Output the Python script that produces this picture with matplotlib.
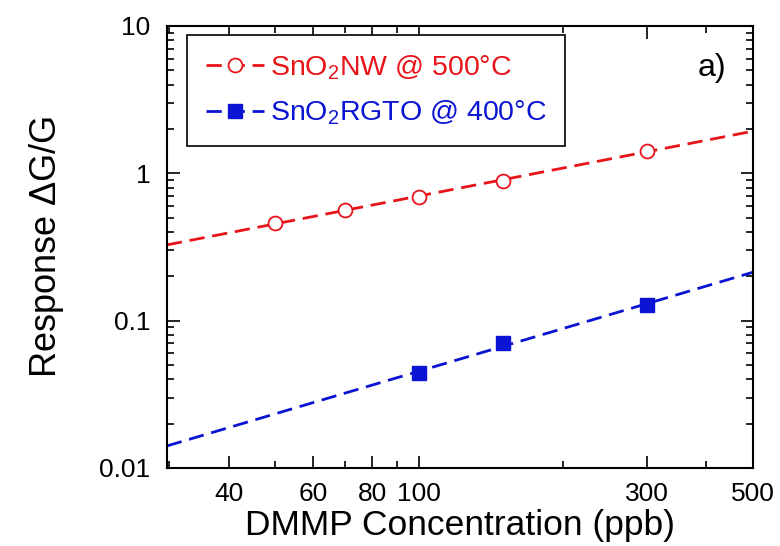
import matplotlib
matplotlib.use('Agg')
import matplotlib.pyplot as plt
from matplotlib.ticker import FixedLocator, NullFormatter, FixedFormatter
import numpy as np

plt.rcParams['font.family'] = ['Liberation Sans', 'DejaVu Sans']
plt.rcParams['mathtext.default'] = 'regular'

# data
conc_nw = [50, 70, 100, 150, 300]
resp_nw = [0.46, 0.56, 0.69, 0.89, 1.42]
conc_rgto = [100, 150, 300]
resp_rgto = [0.044, 0.070, 0.128]

x_ticks = [40, 60, 80, 100, 300, 500]
x_minor = [30, 50, 70, 90, 200, 400]
y_ticks = [0.01, 0.1, 1, 10]
y_labels = ['0.01', '0.1', '1', '10']
xlim = (29.7, 500)

fig = plt.figure(figsize=(7.8, 5.46), dpi=100)
ax = fig.add_axes([0.214, 0.143, 0.751, 0.8095])

# power-law fits (straight on log-log)
xfit = np.logspace(np.log10(xlim[0]), np.log10(xlim[1]), 100)
p_nw = np.polyfit(np.log10(conc_nw), np.log10(resp_nw), 1)
p_rg = np.polyfit(np.log10(conc_rgto), np.log10(resp_rgto), 1)

red = '#e8141a'
blue = '#0a14d2'
dash = (5.5, 2.8)

ax.plot(xfit, 10 ** np.polyval(p_nw, np.log10(xfit)), color=red, lw=2, dashes=dash)
ax.plot(xfit, 10 ** np.polyval(p_rg, np.log10(xfit)), color=blue, lw=2, dashes=dash)
ax.plot(conc_nw, resp_nw, 'o', color=red, mfc='white', mec=red, ms=10, mew=1.3)
ax.plot(conc_rgto, resp_rgto, 's', color=blue, ms=10)

# legend proxies
h1, = ax.plot([], [], color=red, lw=2, dashes=dash, marker='o', mfc='white', mec=red, ms=10, mew=1.3)
h2, = ax.plot([], [], color=blue, lw=2, dashes=dash, marker='s', ms=10)
leg = ax.legend([h1, h2], ['SnO$_2$NW @ 500°C', 'SnO$_2$RGTO @ 400°C'],
                loc='upper left', bbox_to_anchor=(0.035, 0.98), fontsize=20.5,
                fancybox=False, framealpha=1, edgecolor='black', handlelength=2.05,
                borderpad=0.65, labelspacing=0.6, handletextpad=0.2, borderaxespad=0)
leg.get_frame().set_linewidth(1.2)
for t, c in zip(leg.get_texts(), [red, blue]):
    t.set_color(c)

ax.text(0.955, 0.905, 'a)', transform=ax.transAxes, fontsize=23, ha='right', va='center')

ax.set_xscale('log')
ax.set_yscale('log')
ax.set_xlim(*xlim)
ax.set_ylim(0.01, 10)

ax.xaxis.set_major_locator(FixedLocator(x_ticks))
ax.xaxis.set_major_formatter(FixedFormatter([str(v) for v in x_ticks]))
ax.xaxis.set_minor_locator(FixedLocator(x_minor))
ax.xaxis.set_minor_formatter(NullFormatter())
ax.yaxis.set_major_locator(FixedLocator(y_ticks))
ax.yaxis.set_major_formatter(FixedFormatter(y_labels))

ax.tick_params(which='both', direction='in', top=True, right=True, labelsize=19, width=1.2)
ax.tick_params(which='major', length=9)
ax.tick_params(axis='x', which='major', pad=10)
ax.tick_params(axis='y', which='major', pad=12)
ax.tick_params(which='minor', length=5)
for s in ax.spines.values():
    s.set_linewidth(1.5)

ax.set_xlabel('DMMP Concentration (ppb)', fontsize=25.5, labelpad=2)
ax.set_ylabel('Response $\\Delta$G/G', fontsize=26, labelpad=24)

fig.savefig('out.png', dpi=100)
